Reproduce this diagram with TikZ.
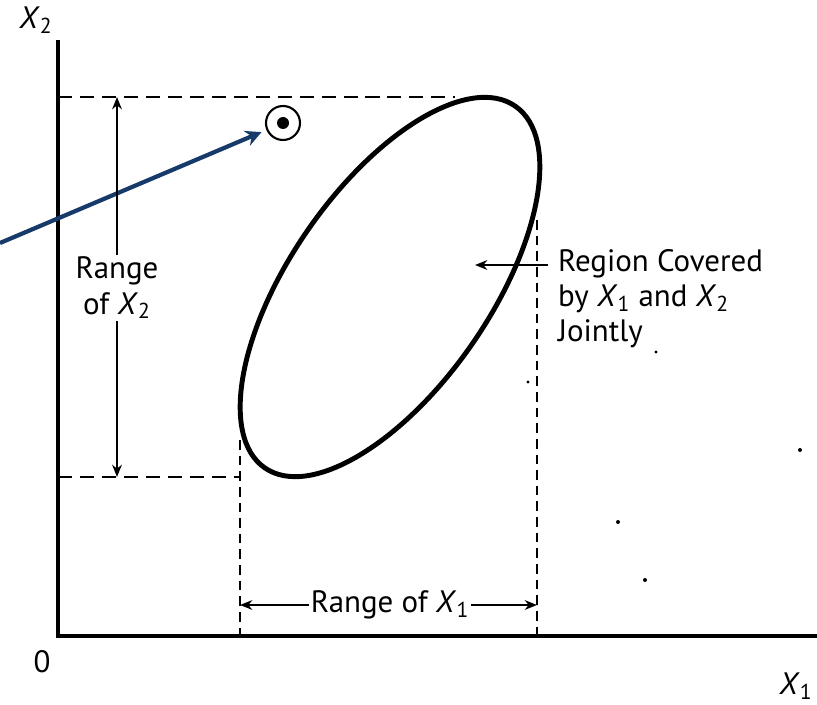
\documentclass[tikz,border=0pt]{standalone}
\usepackage{fontspec}
\setmainfont{PT Sans}
\usepackage{xcolor}
\usetikzlibrary{arrows.meta,positioning}
\definecolor{Navy}{RGB}{22,58,105}
\newcommand{\Xv}[1]{\textit{X}\textsubscript{#1}}
\tikzset{
  axis/.style={line width=1.8pt},
  guide/.style={line width=1.5pt,dash pattern=on 8pt off 4.5pt},
  vguide/.style={line width=1.1pt,dash pattern=on 5.5pt off 3.4pt},
  spanarrow/.style={line width=1pt,-{Stealth[length=7pt,width=5.5pt]}},
  lbl/.style={font=\fontsize{17.6}{20}\selectfont,inner sep=1pt},
  pointer/.style={line width=2.4pt,draw=Navy,-{Stealth[length=9pt,width=9pt]},shorten >=3pt}
}
\begin{document}
\begin{tikzpicture}[x=0.02cm,y=0.02cm]
\useasboundingbox (0,0) rectangle (817,704);
% axes
\coordinate (O) at (58,68);
\coordinate (ytop) at (58,664);
\coordinate (xend) at (817,68);
\draw[axis] (ytop) -- (O) -- (xend);
\node[lbl] (ylab) at (36,684) {\Xv{2}};
\node[lbl] (zero) at (42,42) {0};
\node[lbl] (xlab) at (796,18) {\Xv{1}};
% ranges
\coordinate (t0) at (58,607); \coordinate (t1) at (455,607);
\coordinate (b0) at (58,227); \coordinate (b1) at (240,227);
\coordinate (l0) at (240,264); \coordinate (l1) at (240,68);
\coordinate (r0) at (537,484); \coordinate (r1) at (537,68);
\draw[guide] (t0) -- (t1);
\draw[guide] (b0) -- (b1);
\draw[vguide] (l0) -- (l1);
\draw[vguide] (r0) -- (r1);
% region covered
\draw[line width=2.8pt] (390,417) ellipse [x radius=220, y radius=100, rotate=55.3];
\node[draw,circle,line width=1.2pt,minimum size=34*0.02cm,inner sep=0pt] (mark) at (283,581) {};
\fill (mark.center) circle (6);
\coordinate (src) at (0,461);
\draw[pointer] (src) -- (mark);
% range of X2
\node[lbl,align=center] (rx2) at (117,416) {Range\\of \Xv{2}};
\coordinate (rx2t) at (117,607); \coordinate (rx2b) at (117,227);
\draw[spanarrow] (rx2.north) -- (rx2t);
\draw[spanarrow] (rx2.south) -- (rx2b);
% range of X1
\node[lbl] (rx1) at (390,99) {Range of \Xv{1}};
\coordinate (rx1l) at (240,99); \coordinate (rx1r) at (537,99);
\draw[spanarrow] (rx1.west) -- (rx1l);
\draw[spanarrow] (rx1.east) -- (rx1r);
% joint region
\node[lbl,align=left,anchor=north west] (joint) at (556,457) {Region Covered\\by \Xv{1} and \Xv{2}\\Jointly};
\coordinate (jt) at (548,439); \coordinate (jh) at (475,439);
\draw[spanarrow] (jt) -- (jh);
% specks
\fill (800,254) circle (2); \fill (618,182) circle (2); \fill (645,124) circle (2);
\fill (656,352) circle (1.6); \fill (528,322) circle (1.6);
\end{tikzpicture}
\end{document}
